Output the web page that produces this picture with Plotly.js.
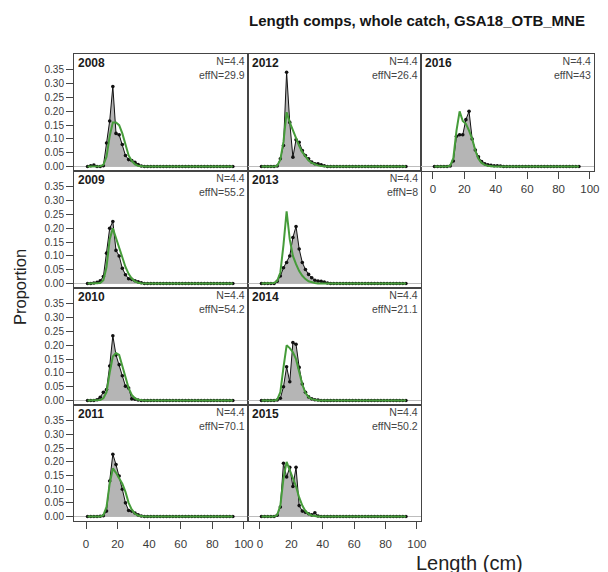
<!DOCTYPE html>
<html>
<head>
<meta charset="utf-8">
<script src="https://cdn.plot.ly/plotly-3.0.1.min.js"></script>
<style>
  html, body { margin: 0; padding: 0; background: #ffffff; }
  #chart { width: 608px; height: 572px; }
</style>
</head>
<body>
<div id="chart"></div>
<script>
// Length bins (cm), 2 cm wide
var lengths = [1,3,5,7,9,11,13,15,17,19,21,23,25,27,29,31,33,35,37,39,41,43,45,47,49,51,53,55,57,59,61,63,65,67,69,71,73,75,77,79,81,83,85,87,89,91,93];

// Observed (obs) and expected (exp) proportions by length bin
var obs2008 = [0,0.003,0.005,0,0,0.003,0.085,0.165,0.29,0.12,0.115,0.08,0.04,0.025,0.022,0.015,0.007,0.002,0,0,0,0,0,0,0,0,0,0,0,0,0,0,0,0,0,0,0,0,0,0,0,0,0,0,0,0,0];
var exp2008 = [0,0,0,0,0.001,0.006,0.035,0.11,0.16,0.16,0.15,0.12,0.078,0.04,0.02,0.008,0.003,0.001,0,0,0,0,0,0,0,0,0,0,0,0,0,0,0,0,0,0,0,0,0,0,0,0,0,0,0,0,0];
var obs2009 = [0,0,0.002,0.004,0.01,0.025,0.11,0.2,0.225,0.12,0.1,0.055,0.032,0.017,0.015,0.01,0.006,0.003,0,0,0,0,0,0,0,0,0,0,0,0,0,0,0,0,0,0,0,0,0,0,0,0,0,0,0,0,0];
var exp2009 = [0,0,0,0,0.002,0.012,0.06,0.16,0.2,0.165,0.13,0.095,0.06,0.035,0.018,0.008,0.003,0.001,0,0,0,0,0,0,0,0,0,0,0,0,0,0,0,0,0,0,0,0,0,0,0,0,0,0,0,0,0];
var obs2010 = [0,0,0,0.003,0.012,0.03,0.04,0.125,0.235,0.165,0.13,0.09,0.052,0.045,0.006,0.005,0.002,0,0,0,0,0,0,0,0,0,0,0,0,0,0,0,0,0,0,0,0,0,0,0,0,0,0,0,0,0,0];
var exp2010 = [0,0,0,0,0.002,0.008,0.03,0.1,0.16,0.172,0.165,0.125,0.08,0.045,0.02,0.008,0.003,0.001,0,0,0,0,0,0,0,0,0,0,0,0,0,0,0,0,0,0,0,0,0,0,0,0,0,0,0,0,0];
var obs2011 = [0,0,0,0,0.001,0.003,0.02,0.13,0.228,0.19,0.148,0.1,0.05,0.022,0.02,0.013,0.006,0.002,0,0,0,0,0,0,0,0,0,0,0,0,0,0,0,0,0,0,0,0,0,0,0,0,0,0,0,0,0];
var exp2011 = [0,0,0,0,0,0.005,0.035,0.12,0.176,0.16,0.14,0.12,0.09,0.05,0.025,0.01,0.004,0.001,0,0,0,0,0,0,0,0,0,0,0,0,0,0,0,0,0,0,0,0,0,0,0,0,0,0,0,0,0];
var obs2012 = [0,0,0,0,0,0.002,0.028,0.076,0.342,0.16,0.034,0.097,0.088,0.058,0.04,0.028,0.016,0.01,0.01,0.006,0.003,0,0,0,0,0,0,0,0,0,0,0,0,0,0,0,0,0,0,0,0,0,0,0,0,0,0];
var exp2012 = [0,0,0,0,0,0.003,0.025,0.09,0.197,0.16,0.13,0.1,0.075,0.052,0.035,0.022,0.013,0.007,0.004,0.002,0,0,0,0,0,0,0,0,0,0,0,0,0,0,0,0,0,0,0,0,0,0,0,0,0,0,0];
var obs2013 = [0,0,0,0,0,0.008,0.027,0.057,0.076,0.1,0.167,0.207,0.125,0.076,0.051,0.033,0.021,0.012,0.009,0.008,0.005,0.002,0,0,0,0,0,0,0,0,0,0,0,0,0,0,0,0,0,0,0,0,0,0,0,0,0];
var exp2013 = [0,0,0,0,0.002,0.01,0.04,0.14,0.262,0.16,0.1,0.07,0.045,0.028,0.016,0.008,0.004,0.002,0,0,0,0,0,0,0,0,0,0,0,0,0,0,0,0,0,0,0,0,0,0,0,0,0,0,0,0,0];
var obs2014 = [0,0,0,0,0,0.002,0.008,0.05,0.122,0.068,0.21,0.204,0.12,0.06,0.03,0.013,0.006,0.003,0.002,0,0,0,0,0,0,0,0,0,0,0,0,0,0,0,0,0,0,0,0,0,0,0,0,0,0,0,0];
var exp2014 = [0,0,0,0,0,0.003,0.03,0.12,0.2,0.19,0.175,0.15,0.1,0.058,0.028,0.012,0.005,0.002,0,0,0,0,0,0,0,0,0,0,0,0,0,0,0,0,0,0,0,0,0,0,0,0,0,0,0,0,0];
var obs2015 = [0,0,0,0,0,0.005,0.035,0.195,0.145,0.18,0.11,0.18,0.04,0.02,0.016,0.01,0.006,0.014,0.002,0,0,0,0,0,0,0,0,0,0,0,0,0,0,0,0,0,0,0,0,0,0,0,0,0,0,0,0];
var exp2015 = [0,0,0,0,0,0.006,0.04,0.14,0.2,0.17,0.14,0.11,0.07,0.04,0.02,0.009,0.004,0.001,0,0,0,0,0,0,0,0,0,0,0,0,0,0,0,0,0,0,0,0,0,0,0,0,0,0,0,0,0];
var obs2016 = [0,0,0,0,0,0.002,0.02,0.11,0.115,0.115,0.17,0.2,0.1,0.06,0.035,0.018,0.01,0.006,0.004,0.003,0.003,0.002,0,0,0,0,0,0,0,0,0,0,0,0,0,0,0,0,0,0,0,0,0,0,0,0,0];
var exp2016 = [0,0,0,0,0,0.003,0.03,0.13,0.2,0.165,0.155,0.13,0.1,0.058,0.028,0.013,0.006,0.003,0.001,0,0,0,0,0,0,0,0,0,0,0,0,0,0,0,0,0,0,0,0,0,0,0,0,0,0,0,0];

// Panel labels
var years = ["2008","2009","2010","2011","2012","2013","2014","2015","2016"];
var sampleN = ["4.4","4.4","4.4","4.4","4.4","4.4","4.4","4.4","4.4"];
var effN = ["29.9","55.2","54.2","70.1","26.4","8","21.1","50.2","43"];

// Axis ticks
var yTickVals = [0,0.05,0.10,0.15,0.20,0.25,0.30,0.35];
var yTickText = ["0.00","0.05","0.10","0.15","0.20","0.25","0.30","0.35"];
var xTickVals = [0,20,40,60,80,100];
var xTickText = ["0","20","40","60","80","100"];

var obsSeries = [obs2008,obs2009,obs2010,obs2011,obs2012,obs2013,obs2014,obs2015,obs2016];
var expSeries = [exp2008,exp2009,exp2010,exp2011,exp2012,exp2013,exp2014,exp2015,exp2016];

// Panel grid: column / row for each year (columns filled top to bottom)
var panelCol = [0,0,0,0,1,1,1,1,2];
var panelRow = [0,1,2,3,0,1,2,3,0];

var W = 608, H = 572;
var colEdges = [74, 248, 421, 594];        // px from left
var rowEdges = [54, 171, 288, 405, 521];   // px from top

var FONT = "Liberation Sans, Arial, sans-serif";
var axisColor = "#454545";
var tickFont = {family: FONT, size: 10, color: "#3a3a3a"};
var xTickFont = {family: FONT, size: 11.5, color: "#3a3a3a"};
var labFont = {family: FONT, size: 10.5, color: "#444"};

var traces = [];
var layout = {
  width: W, height: H,
  margin: {l: 0, r: 0, t: 0, b: 0},
  paper_bgcolor: "#ffffff",
  plot_bgcolor: "#ffffff",
  showlegend: false,
  annotations: []
};

for (var p = 0; p < years.length; p++) {
  var n = p + 1;
  var xa = "x" + (n === 1 ? "" : n);
  var ya = "y" + (n === 1 ? "" : n);
  var c = panelCol[p], r = panelRow[p];
  var bottomRow = (r === 3) || (c === 2);
  var leftCol = (c === 0);

  // grey polygon of observed proportions
  traces.push({
    x: lengths, y: obsSeries[p], xaxis: xa, yaxis: ya,
    type: "scatter", mode: "lines", fill: "tozeroy",
    fillcolor: "#b5b5b5", line: {width: 0, color: "rgba(0,0,0,0)"},
    hoverinfo: "skip"
  });
  // observed line and points
  traces.push({
    x: lengths, y: obsSeries[p], xaxis: xa, yaxis: ya,
    type: "scatter", mode: "lines+markers",
    line: {color: "#111111", width: 1},
    marker: {color: "#111111", size: 3.6},
    hoverinfo: "skip"
  });
  // expected line
  traces.push({
    x: lengths, y: expSeries[p], xaxis: xa, yaxis: ya,
    type: "scatter", mode: "lines",
    line: {color: "rgb(70,156,58)", width: 2},
    hoverinfo: "skip"
  });

  var xKey = "xaxis" + (n === 1 ? "" : n);
  var yKey = "yaxis" + (n === 1 ? "" : n);
  layout[xKey] = {
    domain: [colEdges[c] / W, colEdges[c + 1] / W],
    range: [-7.6, 102.6],
    anchor: ya,
    showline: true, mirror: true, linecolor: axisColor, linewidth: 1,
    showgrid: false, zeroline: false,
    ticks: bottomRow ? "outside" : "",
    ticklen: 7, tickcolor: axisColor, tickwidth: 1,
    ticklabelstandoff: (r === 3) ? 5 : 0,
    tickvals: xTickVals, ticktext: xTickText,
    showticklabels: bottomRow,
    tickfont: xTickFont,
    fixedrange: true
  };
  layout[yKey] = {
    domain: [1 - rowEdges[r + 1] / H, 1 - rowEdges[r] / H],
    range: [-0.0163, 0.408],
    anchor: xa,
    showline: true, mirror: true, linecolor: axisColor, linewidth: 1,
    showgrid: false,
    zeroline: true, zerolinecolor: "#bdbdbd", zerolinewidth: 1,
    ticks: leftCol ? "outside" : "",
    ticklen: 7, tickcolor: axisColor, tickwidth: 1,
    tickvals: yTickVals, ticktext: yTickText,
    showticklabels: leftCol,
    tickfont: tickFont,
    fixedrange: true
  };

  // year label (top left) and sample sizes (top right)
  layout.annotations.push({
    xref: xa + " domain", yref: ya + " domain", x: 0, y: 1,
    xanchor: "left", yanchor: "top", xshift: 2, yshift: 0,
    text: "<b>" + years[p] + "</b>", showarrow: false,
    font: {family: FONT, size: 12, color: "#1a1a1a"}
  });
  layout.annotations.push({
    xref: xa + " domain", yref: ya + " domain", x: 1, y: 1,
    xanchor: "right", yanchor: "top", xshift: -1, yshift: 1,
    align: "right",
    text: "N=" + sampleN[p] + "<br>effN=" + effN[p], showarrow: false,
    font: labFont
  });
}

// overall title and axis titles
layout.annotations.push({
  xref: "paper", yref: "paper", x: 417 / W, y: 1 - 20 / H,
  xanchor: "center", yanchor: "middle",
  text: "<b>Length comps, whole catch, GSA18_OTB_MNE</b>", showarrow: false,
  font: {family: FONT, size: 15, color: "#151515"}
});
layout.annotations.push({
  xref: "paper", yref: "paper", x: 20 / W, y: 1 - 287 / H,
  xanchor: "center", yanchor: "middle", textangle: -90,
  text: "Proportion", showarrow: false,
  font: {family: FONT, size: 16.5, color: "#222"}
});
layout.annotations.push({
  xref: "paper", yref: "paper", x: 469 / W, y: 1 - 550 / H,
  xanchor: "center", yanchor: "top",
  text: "Length (cm)", showarrow: false,
  font: {family: FONT, size: 20, color: "#222"}
});

Plotly.newPlot("chart", traces, layout, {staticPlot: true, displayModeBar: false});
</script>
</body>
</html>
